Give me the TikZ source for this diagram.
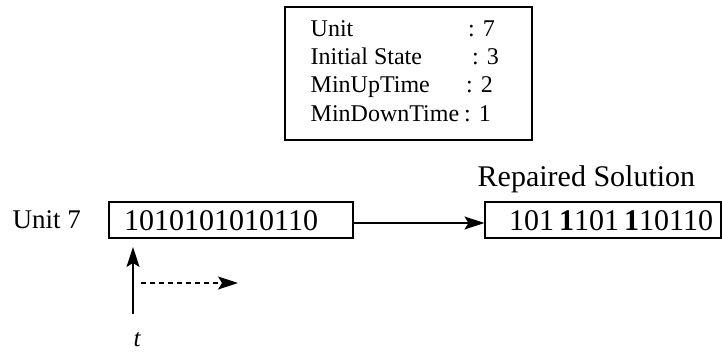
\documentclass[tikz,border=0pt]{standalone}
\usepackage{fontspec}
\setmainfont{Liberation Serif}
\usetikzlibrary{arrows.meta}
\begin{document}
\begin{tikzpicture}[x=1pt,y=-1pt,
  box/.style={draw, line width=1.1pt, rectangle, inner sep=0pt},
  big/.style={font=\fontsize{30}{36}\selectfont, inner sep=0pt, anchor=base west},
  mid/.style={font=\fontsize{27}{32}\selectfont, inner sep=0pt, anchor=base west},
  info/.style={font=\fontsize{24}{28}\selectfont, inner sep=0pt, anchor=base west},
  arr/.style={line width=1.1pt, -{Stealth[length=20pt, width=13pt, inset=4pt]}},
  darr/.style={arr, dash pattern=on 5pt off 4pt}
]
\useasboundingbox (0,0) rectangle (722,352);
% info box
\node[box, minimum width=247pt, minimum height=133pt] (infobox) at (408.5,73.5) {};
\node[info] (l1) at (310.5,37) {Unit};
\node[info] (l2) at (310.5,65) {Initial State};
\node[info] (l3) at (310.5,93) {MinUpTime};
\node[info] (l4) at (310.5,122) {MinDownTime};
\node[info] (v1) at (468,37) {: 7};
\node[info] (v2) at (472,65) {: 3};
\node[info] (v3) at (466,93) {: 2};
\node[info] (v4) at (464,122) {: 1};
% unit row
\node[mid] (unit) at (12.5,229) {Unit 7};
\node[box, minimum width=244pt, minimum height=36pt] (seq) at (231,220) {};
\node[big] (seqtxt) at (124,231) {1010101010110};
\node[box, minimum width=236pt, minimum height=36pt] (rep) at (603,220) {};
\node[big] (reptxt) at (509,231) {101\,\textbf{1}101\,\textbf{1}10110};
\node[big] (reptitle) at (477.5,187) {Repaired Solution};
\draw[arr] ([yshift=-3pt]seq.east) -- ([yshift=-3pt]rep.west);
% pointer
\coordinate (tfoot) at (133,314);
\coordinate (thead) at (133,247);
\draw[arr] (tfoot) -- (thead);
\coordinate (ds) at (141,283);
\coordinate (de) at (238,283);
\draw[darr] (ds) -- (de);
\node[info, font=\fontsize{25}{28}\selectfont\itshape] (t) at (133.5,346) {t};
\end{tikzpicture}
\end{document}
